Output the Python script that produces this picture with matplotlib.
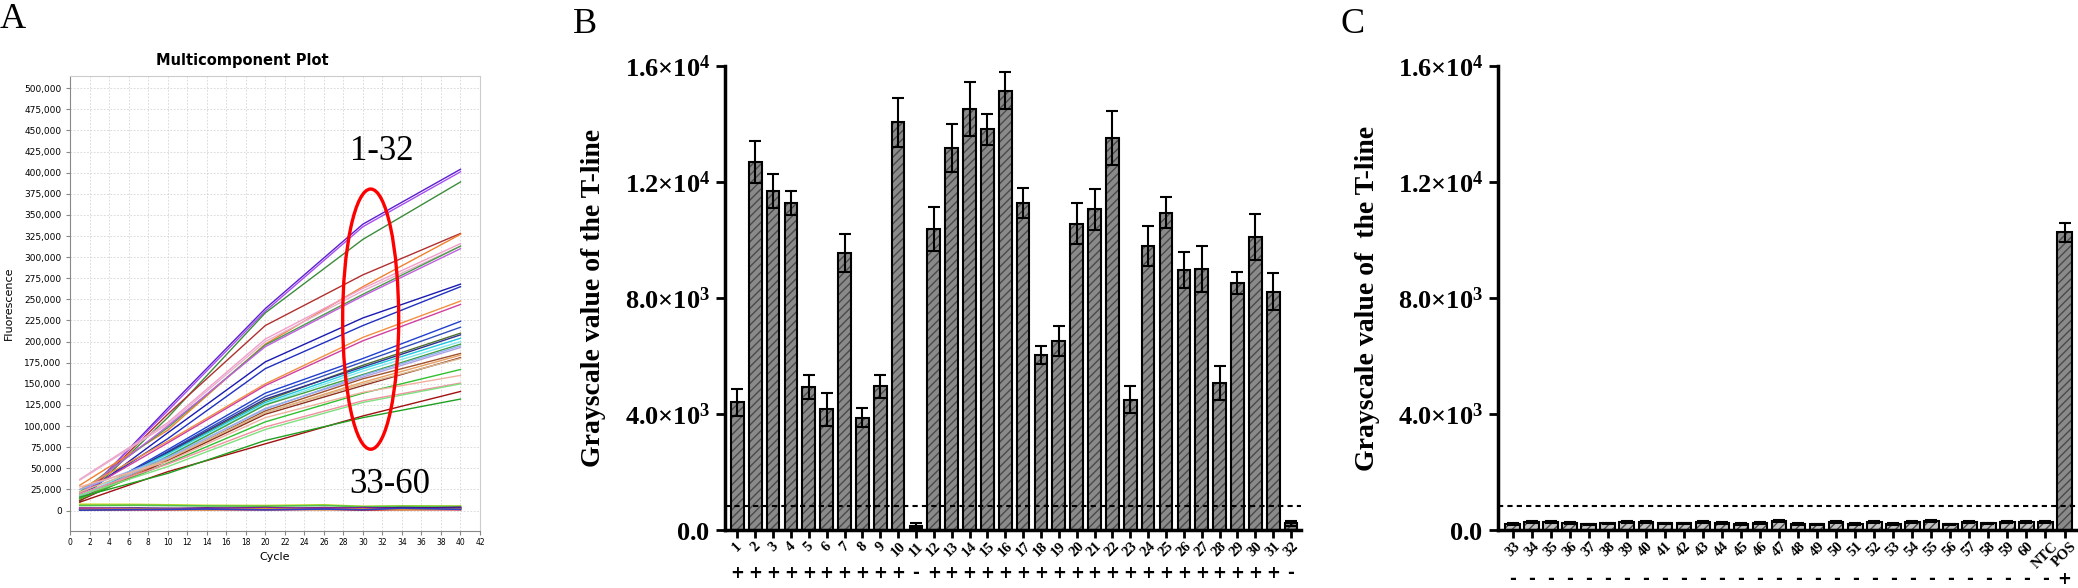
import matplotlib
matplotlib.use('Agg')
import matplotlib.pyplot as plt
from matplotlib.patches import Ellipse
from matplotlib.transforms import blended_transform_factory

plt.rcParams['mathtext.fontset'] = 'custom'
plt.rcParams['mathtext.rm'] = 'Liberation Serif'
plt.rcParams['mathtext.bf'] = 'Liberation Serif:bold'
plt.rcParams['hatch.linewidth'] = 1.0

# ---------------- panel A: amplification curves (x1000 fluorescence) ----------------
cycle_pts = [1, 10, 20, 30, 40]
pos_curves = [
    [12, 121, 239, 339, 404], [14, 118, 236, 336, 401], [10, 110, 234, 321, 389],
    [12, 114, 219, 279, 328], [30, 95, 197, 265, 327], [37, 104, 203, 263, 316],
    [36, 102, 200, 260, 313], [22, 98, 196, 256, 313], [20, 100, 194, 254, 310],
    [15, 92, 176, 228, 268], [18, 85, 168, 219, 265], [25, 82, 150, 205, 248],
    [20, 80, 148, 201, 244], [13, 72, 139, 180, 224], [12, 70, 135, 176, 217],
    [14, 68, 130, 172, 210], [15, 69, 132, 170, 208], [16, 67, 128, 168, 204],
    [18, 65, 126, 165, 200], [12, 64, 125, 161, 197], [16, 62, 121, 158, 193],
    [14, 60, 118, 156, 186], [13, 60, 116, 152, 184], [12, 59, 114, 148, 181],
    [22, 61, 116, 150, 180], [25, 63, 120, 160, 195], [14, 56, 105, 139, 167],
    [20, 55, 99, 130, 151], [18, 52, 96, 128, 150], [10, 46, 79, 112, 141],
    [16, 44, 83, 110, 132], [28, 58, 110, 140, 160],
]
pos_colors = [
    '#5b1fd1', '#a64ff0', '#3c8c3c', '#b03030', '#f08030', '#f0a0c8', '#e8b0d0', '#4a9a4a',
    '#c060e0', '#1a1ab0', '#2030c0', '#f09040', '#d040a0', '#2040d0', '#3050c0', '#507030',
    '#303090', '#20c8e0', '#80e8f0', '#40a040', '#b0a0e0', '#a0522d', '#e8a060', '#903020',
    '#d8b890', '#90b0f0', '#30c030', '#f090a0', '#80e080', '#a01010', '#20a020', '#f0b0a0',
]
flat_pts = [1, 7, 14, 20, 26, 30, 34, 40]
neg_curves = [
    [7.5, 7.3, 6.2, 6.0, 6.8, 5.0, 5.6, 5.4], [6.0, 6.3, 5.5, 5.2, 6.0, 4.6, 5.0, 4.8],
    [2.0, 1.5, 2.5, 3.5, 2.0, 3.5, 2.5, 3.8], [1.0, 2.0, 3.0, 1.5, 3.5, 2.0, 3.5, 2.5],
    [2.5, 3.0, 1.5, 2.5, 1.5, 3.0, 1.5, 3.0], [0.8, 0.6, 1.2, 0.8, 1.5, 0.5, 1.2, 1.0],
    [1.5, 1.0, 2.0, 1.0, 2.5, 1.5, 2.0, 1.5], [3.0, 2.5, 2.0, 3.0, 2.5, 3.0, 2.0, 2.5],
    [1.2, 1.8, 0.9, 2.2, 1.0, 2.0, 1.0, 2.0], [0.5, 1.2, 1.8, 0.9, 1.8, 1.0, 2.8, 1.5],
]
neg_colors = ['#c8d820', '#50c050', '#600080', '#500070', '#202080',
              '#d02020', '#e080b0', '#a020a0', '#e09030', '#3040c0']

# ---------------- panel B: samples 1-32 ----------------
b_labels = [str(i) for i in range(1, 33)]
b_vals = [4410, 12700, 11700, 11290, 4940, 4170, 9570, 3880, 4960, 14060, 160,
          10400, 13170, 14510, 13820, 15160, 11290, 6040, 6530, 10570, 11070,
          13530, 4510, 9800, 10950, 8980, 9010, 5080, 8540, 10120, 8230, 240]
b_err = [470, 710, 600, 410, 400, 570, 650, 325, 400, 830, 90,
         760, 830, 930, 530, 640, 520, 313, 518, 700, 710,
         930, 470, 700, 540, 614, 795, 580, 375, 796, 640, 96]
b_signs = ['+'] * 10 + ['-'] + ['+'] * 20 + ['-']

# ---------------- panel C: samples 33-60, NTC, POS ----------------
c_labels = [str(i) for i in range(33, 61)] + ['NTC', 'POS']
c_vals = [228, 300, 290, 252, 204, 240, 290, 276, 240, 240, 276, 264, 228, 264, 312,
          216, 204, 288, 216, 300, 216, 276, 312, 204, 288, 240, 300, 276, 300, 10270]
c_err = [30, 35, 30, 30, 25, 30, 35, 30, 30, 30, 35, 30, 30, 30, 35,
         25, 25, 35, 25, 35, 25, 30, 35, 25, 35, 30, 35, 30, 35, 340]
c_signs = ['-'] * 29 + ['+']

cutoff = 850

yticks = [0, 4000, 8000, 12000, 16000]
ytick_labels = [r'$\mathbf{0.0}$', r'$\mathbf{4.0{\times}10^{3}}$', r'$\mathbf{8.0{\times}10^{3}}$',
                r'$\mathbf{1.2{\times}10^{4}}$', r'$\mathbf{1.6{\times}10^{4}}$']

serif = 'Liberation Serif'

fig = plt.figure(figsize=(20.78, 5.88), dpi=100)

# ===== panel A =====
axA = fig.add_axes([0.0337, 0.0976, 0.1973, 0.7723])
for vals, col in zip(pos_curves, pos_colors):
    axA.plot(cycle_pts, [v * 1000 for v in vals], color=col, lw=1.0)
for vals, col in zip(neg_curves, neg_colors):
    axA.plot(flat_pts, [v * 1000 for v in vals], color=col, lw=1.2)
axA.set_xlim(0, 42)
axA.set_ylim(-23700, 513800)
axA.set_xticks(range(0, 43, 2))
axA.set_yticks(range(0, 500001, 25000))
axA.set_yticklabels(['{:,}'.format(v) for v in range(0, 500001, 25000)])
axA.tick_params(axis='y', labelsize=6.5, length=3, color='#888888', pad=3)
axA.tick_params(axis='x', labelsize=5.5, length=3, color='#888888', pad=2)
axA.grid(True, color='#d4d4d4', ls=(0, (2, 2)), lw=0.6)
axA.set_axisbelow(True)
for s in ['left', 'bottom']:
    axA.spines[s].set_color('#888888')
for s in ['top', 'right']:
    axA.spines[s].set_color('#cccccc')
axA.set_ylabel('Fluorescence', fontsize=8)
axA.yaxis.set_label_coords(-0.138, 0.5)
axA.set_xlabel('Cycle', fontsize=8, labelpad=4)
fig.text(242 / 2078, 1 - 61 / 588, 'Multicomponent Plot', fontsize=10.5,
         fontweight='bold', ha='center', va='center')
axA.add_patch(Ellipse((30.8, 226600), 5.74, 308000, fill=False, edgecolor='red', lw=2.4, zorder=5))
axA.text(31.9, 424800, '1-32', family=serif, fontsize=25, ha='center', va='center')
axA.text(32.8, 30300, '33-60', family=serif, fontsize=25, ha='center', va='center')


def bar_panel(ax, labels, vals, errs, colors, signs, width, xlim, ylab, lab_x, sign_y):
    x = list(range(len(vals)))
    ax.bar(x, vals, width=width, color=colors, edgecolor='#4a4a4a', hatch='////', lw=0, zorder=2)
    ax.bar(x, vals, width=width, fill=False, edgecolor='black', lw=1.5, zorder=3)
    ax.errorbar(x, vals, yerr=errs, fmt='none', ecolor='black', elinewidth=1.5,
                capsize=4, capthick=1.5, zorder=4)
    ax.axhline(cutoff, color='black', lw=1.5, ls=(0, (2.5, 2)), zorder=5)
    ax.set_xlim(*xlim)
    ax.set_ylim(0, 16000)
    ax.set_yticks(yticks)
    ax.set_yticklabels(ytick_labels, fontsize=19)
    ax.set_xticks(x)
    ax.set_xticklabels(labels, rotation=45, ha='center', family=serif,
                       fontweight='bold', fontsize=10.5)
    ax.tick_params(axis='y', length=6.5, width=2, pad=4)
    ax.tick_params(axis='x', length=5.8, width=2, pad=1)
    for s in ['top', 'right']:
        ax.spines[s].set_visible(False)
    for s in ['left', 'bottom']:
        ax.spines[s].set_linewidth(2.5)
    ax.set_ylabel(ylab, family=serif, fontweight='bold', fontsize=20)
    ax.yaxis.set_label_coords(lab_x, 0.5)
    tr = blended_transform_factory(ax.transData, ax.transAxes)
    for xi, s in zip(x, signs):
        ax.text(xi, sign_y, s, transform=tr, ha='center', va='center',
                family='DejaVu Sans', fontweight='bold', fontsize=12)


# ===== panel B =====
axB = fig.add_axes([0.3489, 0.0980, 0.2772, 0.7894])
bar_panel(axB, b_labels, b_vals, b_err, ['#8a8a8a'] * len(b_vals), b_signs,
          0.71, (-0.69, 31.56), 'Grayscale value of the T-line', -0.2066, -0.0918)

# ===== panel C =====
axC = fig.add_axes([0.7207, 0.0980, 0.2783, 0.7894])
c_colors = ['#c4c4c4'] * (len(c_vals) - 1) + ['#8a8a8a']
bar_panel(axC, c_labels, c_vals, c_err, c_colors, c_signs,
          0.77, (-0.79, 29.6), 'Grayscale value of  the T-line', -0.2036, -0.104)

# panel letters
fig.text(0.0, 1 - 28 / 588, 'A', family=serif, fontsize=26, va='baseline')
fig.text(573 / 2078, 1 - 33 / 588, 'B', family=serif, fontsize=26, va='baseline')
fig.text(1340 / 2078, 1 - 33 / 588, 'C', family=serif, fontsize=26, va='baseline')

fig.savefig('out.png', dpi=100)
